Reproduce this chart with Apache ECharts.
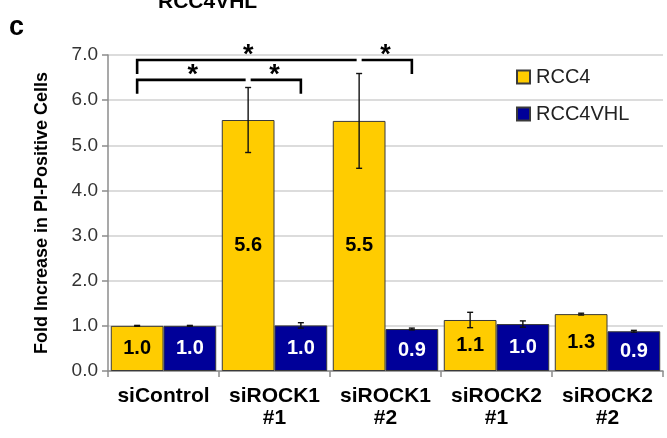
<!DOCTYPE html>
<html>
<head>
<meta charset="utf-8">
<script src="https://cdn.jsdelivr.net/npm/echarts@6/dist/echarts.min.js"></script>
<style>
  html, body { margin: 0; padding: 0; background: #fff; }
  #chart { width: 667px; height: 438px; }
</style>
</head>
<body>
<div id="chart"></div>
<script>
// Fold increase in PI-positive cells after ROCK knockdown
const categories = ['siControl', 'siROCK1\n#1', 'siROCK1\n#2', 'siROCK2\n#1', 'siROCK2\n#2'];
const rcc4Values = [1.00, 5.56, 5.54, 1.13, 1.26];
const rcc4Errors = [0.01, 0.72, 1.05, 0.17, 0.02];
const rcc4vhlValues = [1.00, 1.01, 0.93, 1.04, 0.88];
const rcc4vhlErrors = [0.01, 0.06, 0.02, 0.07, 0.02];
const yTickValues = [0, 1, 2, 3, 4, 5, 6, 7];

// Significance brackets: endpoints given as [category, bar] (bar 0 = RCC4, 1 = RCC4VHL);
// the bracket is split at the middle bar and each half carries a star.
const sigBrackets = [
  { from: [0, 0], mid: [1, 0], to: [1, 1], level: 6.45 },
  { from: [0, 0], mid: [2, 0], to: [2, 1], level: 6.89 }
];

const FONT = '"Liberation Sans", Arial, sans-serif';
const CAT_GAP = 0.05;

function barCenterX(api, cat, bar) {
  const band = api.size([1, 0])[0];
  const w = band * (1 - CAT_GAP) / 2;
  const cx = api.coord([cat, 0])[0];
  return cx + (bar === 0 ? -w / 2 : w / 2);
}

function errorRenderer(barIndex) {
  return function (params, api) {
    const cat = api.value(0);
    const v = api.value(1);
    const e = api.value(2);
    const x = barCenterX(api, cat, barIndex);
    const yHi = api.coord([cat, v + e])[1];
    const yLo = api.coord([cat, v - e])[1];
    const cap = 3;
    const style = { stroke: '#111', lineWidth: 1.4 };
    return {
      type: 'group',
      children: [
        { type: 'line', shape: { x1: x, y1: yHi, x2: x, y2: yLo }, style },
        { type: 'line', shape: { x1: x - cap, y1: yHi, x2: x + cap, y2: yHi }, style },
        { type: 'line', shape: { x1: x - cap, y1: yLo, x2: x + cap, y2: yLo }, style }
      ]
    };
  };
}

function bracketRenderer(params, api) {
  const b = sigBrackets[params.dataIndex];
  const xL = barCenterX(api, b.from[0], b.from[1]);
  const xM = barCenterX(api, b.mid[0], b.mid[1]);
  const xR = barCenterX(api, b.to[0], b.to[1]);
  const y = api.coord([0, b.level])[1];
  const drop = 14;
  const gap = 2.5;
  const style = { stroke: '#000', lineWidth: 2.6, fill: null, lineJoin: 'miter' };
  const star = (x) => ({
    type: 'text',
    style: {
      text: '*', x: x, y: y - 4, align: 'center', verticalAlign: 'middle',
      font: 'bold 27px ' + FONT, fill: '#000'
    }
  });
  return {
    type: 'group',
    children: [
      { type: 'polyline', shape: { points: [[xL, y + drop], [xL, y], [xM - gap, y]] }, style },
      { type: 'polyline', shape: { points: [[xM + gap, y], [xR, y], [xR, y + drop]] }, style },
      star((xL + xM) / 2),
      star((xM + xR) / 2)
    ]
  };
}

const chart = echarts.init(document.getElementById('chart'), null, { renderer: 'canvas' });

const barBorder = { borderColor: '#3a3a3a', borderWidth: 1 };

chart.setOption({
  animation: false,
  textStyle: { fontFamily: FONT },
  grid: { left: 108, right: 4, top: 55, bottom: 67, containLabel: false },
  graphic: [
    { type: 'text', left: 9, top: 14, style: { text: 'c', font: 'bold 27px ' + FONT, fill: '#000' } },
    { type: 'text', left: 158, top: -8, style: { text: 'RCC4VHL', font: 'bold 21px ' + FONT, fill: '#000' } }
  ],
  legend: {
    orient: 'vertical',
    left: 511,
    top: 62,
    itemWidth: 13,
    itemHeight: 13,
    itemGap: 17,
    icon: 'rect',
    textStyle: { fontSize: 20, color: '#222', fontFamily: FONT, padding: [0, 0, 0, 1] },
    data: ['RCC4', 'RCC4VHL']
  },
  xAxis: {
    type: 'category',
    data: categories,
    axisLine: { lineStyle: { color: '#8c8c8c', width: 1.5 } },
    axisTick: { show: true, length: 6, lineStyle: { color: '#8c8c8c', width: 1.5 } },
    axisLabel: {
      color: '#000', fontWeight: 'bold', fontSize: 21, lineHeight: 22,
      margin: 14, fontFamily: FONT, interval: 0
    }
  },
  yAxis: {
    type: 'value',
    min: yTickValues[0],
    max: yTickValues[yTickValues.length - 1],
    interval: 1,
    name: 'Fold Increase in PI-Positive Cells',
    nameLocation: 'middle',
    nameGap: 57,
    nameTextStyle: { fontSize: 18, fontWeight: 'bold', color: '#000', fontFamily: FONT },
    axisLine: { show: true, lineStyle: { color: '#8c8c8c', width: 1.5 } },
    axisTick: { show: true, length: 6, lineStyle: { color: '#8c8c8c', width: 1.5 } },
    axisLabel: {
      color: '#333', fontSize: 19, margin: 10, fontFamily: FONT,
      formatter: (v) => v.toFixed(1)
    },
    splitLine: { lineStyle: { color: '#dcdcdc', width: 2 } }
  },
  series: [
    {
      name: 'RCC4',
      type: 'bar',
      data: rcc4Values,
      barGap: '0%',
      barCategoryGap: (CAT_GAP * 100) + '%',
      itemStyle: Object.assign({ color: '#FFCC00' }, barBorder),
      label: {
        show: true, position: 'inside', color: '#000', fontWeight: 'bold',
        fontSize: 20, fontFamily: FONT, formatter: (p) => p.value.toFixed(1)
      },
      z: 2
    },
    {
      name: 'RCC4VHL',
      type: 'bar',
      data: rcc4vhlValues,
      barGap: '0%',
      barCategoryGap: (CAT_GAP * 100) + '%',
      itemStyle: Object.assign({ color: '#000099' }, barBorder),
      label: {
        show: true, position: 'inside', color: '#fff', fontWeight: 'bold',
        fontSize: 20, fontFamily: FONT, formatter: (p) => p.value.toFixed(1)
      },
      z: 2
    },
    {
      type: 'custom',
      renderItem: errorRenderer(0),
      data: rcc4Values.map((v, i) => [i, v, rcc4Errors[i]]),
      silent: true, z: 5
    },
    {
      type: 'custom',
      renderItem: errorRenderer(1),
      data: rcc4vhlValues.map((v, i) => [i, v, rcc4vhlErrors[i]]),
      silent: true, z: 5
    },
    {
      type: 'custom',
      renderItem: bracketRenderer,
      data: sigBrackets.map((b, i) => [i, b.level]),
      clip: false,
      silent: true, z: 6
    }
  ]
});
</script>
</body>
</html>
